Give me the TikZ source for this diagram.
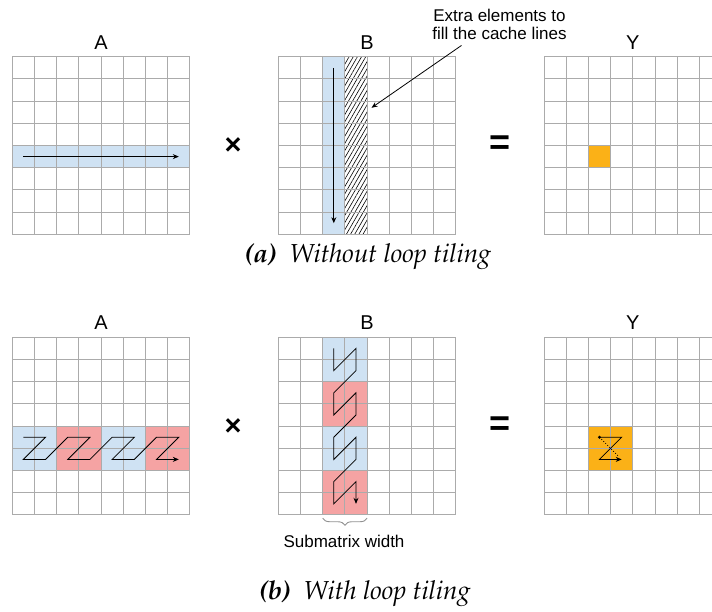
\documentclass[tikz,border=0pt]{standalone}
\usepackage[T1]{fontenc}
\usepackage{fontspec}
\setmainfont{Liberation Sans}
\usetikzlibrary{positioning,arrows.meta,calc,patterns.meta,decorations.pathreplacing}
\definecolor{mBlue}{HTML}{CFE2F3}
\definecolor{mRed}{HTML}{F5A3A3}
\definecolor{mOrange}{HTML}{FBB117}
\definecolor{mGrid}{HTML}{ABABAB}
\newcommand{\cs}{22.2}
\newcommand{\capfont}{\fontencoding{T1}\fontfamily{ppl}\fontsize{26}{28}\selectfont\itshape}
\newcommand{\mgrid}[1]{%
\foreach \k in {0,...,8} {\draw[gridline] (\k,0) -- (\k,8); \draw[gridline] (0,\k) -- (8,\k);}
\node[minimum size=177.6pt, inner sep=0] (#1) at (4,4) {};}

\begin{document}
\begin{tikzpicture}[x=1pt, y=-1pt,
  gridline/.style={draw=mGrid, line width=0.9pt},
  trav/.style={line width=0.8pt, -{Stealth[length=6pt,width=5pt]}},
  lbl/.style={font=\fontsize{20}{24}\selectfont, anchor=base},
  opsym/.style={font=\fontsize{29}{30}\selectfont\bfseries},
  note/.style={font=\fontsize{17}{18}\selectfont, align=center, inner sep=0}]
\useasboundingbox (0,0) rectangle (712,611);

% (a) without loop tiling
\begin{scope}[shift={(12.3,56.7)}, x=\cs pt, y=-\cs pt]
\fill[mBlue] (0,4) rectangle (8,5);
\mgrid{Atop}
\draw[trav] (0.5,4.5) -- (7.5,4.5);
\end{scope}
\begin{scope}[shift={(278.3,56.7)}, x=\cs pt, y=-\cs pt]
\fill[mBlue] (2,0) rectangle (3,8);
\fill[pattern={Lines[angle=60, distance=3.6pt, line width=0.6pt]}] (3,0) rectangle (4,8);
\mgrid{Btop}
\draw[trav] (2.5,0.5) -- (2.5,7.5);
\coordinate (xtra) at (4.2,2.3);
\end{scope}
\begin{scope}[shift={(544,56.7)}, x=\cs pt, y=-\cs pt]
\fill[mOrange] (2,4) rectangle (3,5);
\mgrid{Ytop}
\end{scope}
\node[lbl] (labA1) at ([yshift=7.5pt]Atop.north) {A};
\node[lbl] (labB1) at ([yshift=7.5pt]Btop.north) {B};
\node[lbl] (labY1) at ([yshift=7.5pt]Ytop.north) {Y};
\node[opsym] (times1) at (233,146.5) {×};
\node[opsym, font=\fontsize{36}{36}\selectfont\bfseries] (eq1) at (500,145) {=};
\node[note] (extra) at (499.5,24) {Extra elements to\\fill the cache lines};
\draw[-{Stealth[length=6pt,width=5pt]}, line width=0.8pt] ([shift={(-38pt,-6pt)}]extra.south) -- (xtra);
\node[font=\capfont] (capa) at (368,257) {\textbf{(a)}\enspace Without loop tiling};

% (b) with loop tiling
\begin{scope}[shift={(12.3,337.3)}, x=\cs pt, y=-\cs pt]
\fill[mBlue] (0,4) rectangle (2,6) (4,4) rectangle (6,6);
\fill[mRed] (2,4) rectangle (4,6) (6,4) rectangle (8,6);
\mgrid{Abot}
\draw[trav] (0.5,4.5) -- (1.5,4.5) -- (0.5,5.5) -- (1.5,5.5) -- (2.5,4.5) -- (3.5,4.5) -- (2.5,5.5) -- (3.5,5.5)
  -- (4.5,4.5) -- (5.5,4.5) -- (4.5,5.5) -- (5.5,5.5) -- (6.5,4.5) -- (7.5,4.5) -- (6.5,5.5) -- (7.5,5.5);
\end{scope}
\begin{scope}[shift={(278.3,337.3)}, x=\cs pt, y=-\cs pt]
\fill[mBlue] (2,0) rectangle (4,2) (2,4) rectangle (4,6);
\fill[mRed] (2,2) rectangle (4,4) (2,6) rectangle (4,8);
\mgrid{Bbot}
\draw[trav] (2.5,0.5) -- (2.5,1.5) -- (3.5,0.5) -- (3.5,1.5) -- (2.5,2.5) -- (2.5,3.5) -- (3.5,2.5) -- (3.5,3.5)
  -- (2.5,4.5) -- (2.5,5.5) -- (3.5,4.5) -- (3.5,5.5) -- (2.5,6.5) -- (2.5,7.5) -- (3.5,6.5) -- (3.5,7.5);
\draw[mGrid!85!black, line width=0.9pt, decorate, decoration={brace, mirror, amplitude=7pt}] (2,8.15) -- (4,8.15);
\end{scope}
\begin{scope}[shift={(544,337.3)}, x=\cs pt, y=-\cs pt]
\fill[mOrange] (2,4) rectangle (4,6);
\mgrid{Ybot}
\fill (2.5,4.5) circle (1.6pt);
\draw[dotted, line width=0.8pt] (2.5,4.5) -- (3.35,5.35);
\draw[trav] (2.5,4.5) -- (3.5,4.5) -- (2.5,5.5) -- (3.5,5.5);
\end{scope}
\node[lbl] (labA2) at ([yshift=7.5pt]Abot.north) {A};
\node[lbl] (labB2) at ([yshift=7.5pt]Bbot.north) {B};
\node[lbl] (labY2) at ([yshift=7.5pt]Ybot.north) {Y};
\node[opsym] (times2) at (233,427) {×};
\node[opsym, font=\fontsize{36}{36}\selectfont\bfseries] (eq2) at (500,426) {=};
\node[note] (subw) at (344,541.7) {Submatrix width};
\node[font=\capfont] (capb) at (365,594) {\textbf{(b)}\enspace With loop tiling};
\end{tikzpicture}
\end{document}
